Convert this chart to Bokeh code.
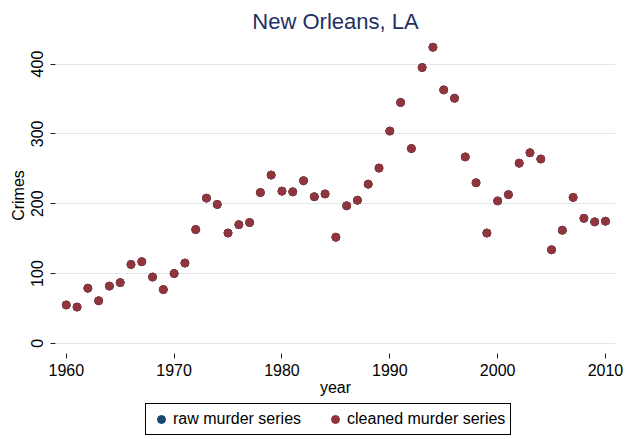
from bokeh.plotting import figure
from bokeh.layouts import column
from bokeh.models import Range1d, FixedTicker, Legend, LegendItem, Title
from bokeh.embed import file_html
from bokeh.resources import INLINE

years = [1960, 1961, 1962, 1963, 1964, 1965, 1966, 1967, 1968, 1969,
         1970, 1971, 1972, 1973, 1974, 1975, 1976, 1977, 1978, 1979,
         1980, 1981, 1982, 1983, 1984, 1985, 1986, 1987, 1988, 1989,
         1990, 1991, 1992, 1993, 1994, 1995, 1996, 1997, 1998, 1999,
         2000, 2001, 2002, 2003, 2004, 2005, 2006, 2007, 2008, 2009, 2010]
cleaned_murders = [55, 52, 79, 61, 82, 87, 113, 117, 95, 77,
                   100, 115, 163, 208, 199, 158, 170, 173, 216, 241,
                   218, 217, 233, 210, 214, 152, 197, 205, 228, 251,
                   304, 345, 279, 395, 424, 363, 351, 267, 230, 158,
                   204, 213, 258, 273, 264, 134, 162, 209, 179, 174, 175]
raw_murders = [55, 52, 79, 61, 82, 87, 113, 117, 95, 77,
               100, 115, 163, 208, 199, 158, 170, 173, 216, 241,
               218, 217, 233, 210, 214, 152, 197, 205, 228, 251,
               304, 345, 279, 395, 424, 363, 351, 267, 230, 158,
               204, 213, 258, 273, 264, 134, 162, 209, 179, 174, 175]
x_ticks = [1960, 1970, 1980, 1990, 2000, 2010]
y_ticks = [0, 100, 200, 300, 400]
series_labels = ["raw murder series", "cleaned murder series"]

FONT = "Liberation Sans"
NAVY = "#1a476f"
MAROON = "#90353b"

p = figure(width=636, height=400, output_backend="svg", toolbar_location=None,
           x_range=Range1d(1959.0, 2010.93), y_range=Range1d(-14.5, 438),
           min_border_left=55, min_border_right=21, min_border_top=37, min_border_bottom=47)
p.outline_line_color = None
p.background_fill_color = "white"
p.border_fill_color = "white"

p.title = Title(text="New Orleans, LA", align="center", text_font=FONT,
                text_font_size="22px", text_font_style="normal", text_color="#1f3162",
                standoff=8, offset=0)

for ax in (p.xaxis[0], p.yaxis[0]):
    ax.axis_line_color = None
    ax.major_tick_in = 0
    ax.major_tick_out = 5
    ax.major_tick_line_color = "#222222"
    ax.minor_tick_line_color = None
    ax.major_label_text_font = FONT
    ax.major_label_text_font_size = "16px"
    ax.major_label_text_color = "black"
    ax.axis_label_text_font = FONT
    ax.axis_label_text_font_size = "16px"
    ax.axis_label_text_font_style = "normal"
    ax.axis_label_text_color = "black"

p.xaxis.ticker = FixedTicker(ticks=x_ticks)
p.yaxis.ticker = FixedTicker(ticks=y_ticks)
p.xaxis.axis_label = "year"
p.yaxis.axis_label = "Crimes"
p.yaxis.major_label_orientation = "vertical"
p.xaxis.major_label_standoff = 5
p.yaxis.major_label_standoff = 7
p.xaxis.axis_label_standoff = 0
p.yaxis.axis_label_standoff = 2

p.xgrid.grid_line_color = None
p.ygrid.ticker = FixedTicker(ticks=y_ticks)
p.ygrid.grid_line_color = "#dfe8ec"
p.ygrid.grid_line_width = 1

p.scatter(years, raw_murders, size=8, marker="circle",
          fill_color=NAVY, line_color=NAVY)
p.scatter(years, cleaned_murders, size=8, marker="circle",
          fill_color=MAROON, line_color=MAROON)

# legend panel below the chart (same series, drawn off-range so only the key shows)
lg = figure(width=636, height=39, output_backend="svg", toolbar_location=None,
            x_range=Range1d(0, 1), y_range=Range1d(0, 1),
            x_axis_type=None, y_axis_type=None,
            min_border=0, min_border_left=0, min_border_right=0,
            min_border_top=0, min_border_bottom=0)
lg.outline_line_color = None
lg.xgrid.visible = False
lg.ygrid.visible = False
lr_raw = lg.scatter(years, raw_murders, size=8, marker="circle",
                    fill_color=NAVY, line_color=NAVY)
lr_clean = lg.scatter(years, cleaned_murders, size=8, marker="circle",
                      fill_color=MAROON, line_color=MAROON)

legend = Legend(items=[LegendItem(label=series_labels[0], renderers=[lr_raw]),
                       LegendItem(label=series_labels[1], renderers=[lr_clean])],
                orientation="horizontal", location=(90, 4),
                label_text_font=FONT, label_text_font_size="16px", label_text_color="black",
                glyph_width=20, glyph_height=20, label_standoff=2, spacing=24,
                padding=5, margin=0, border_line_color="black", border_line_width=1,
                border_line_alpha=1,
                background_fill_color="white", background_fill_alpha=1)
lg.add_layout(legend, "center")

layout = column(p, lg, spacing=0)
open("out.html", "w").write(file_html(layout, INLINE))
